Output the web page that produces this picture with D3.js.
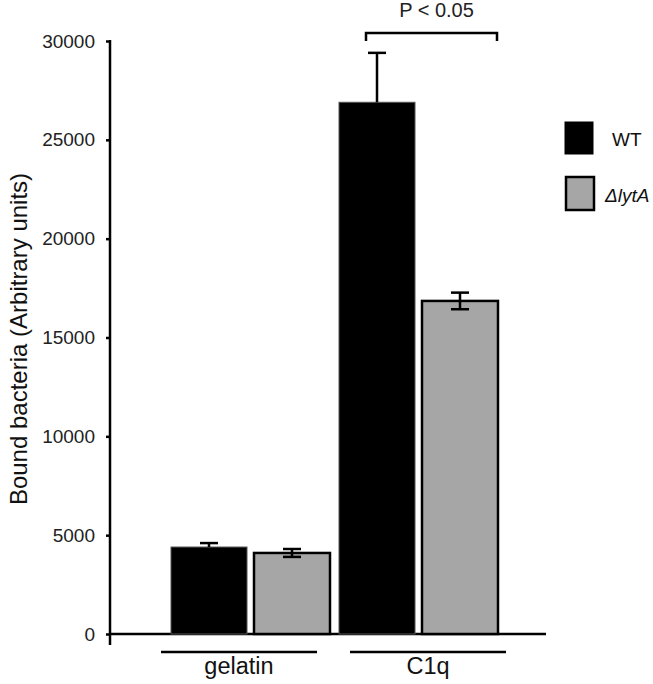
<!DOCTYPE html>
<html>
<head>
<meta charset="utf-8">
<script src="https://cdn.jsdelivr.net/npm/d3@7"></script>
<style>
  body { margin: 0; background: #fff; }
  text { font-family: "Liberation Sans", Arial, sans-serif; }
</style>
</head>
<body>
<svg width="653" height="684"></svg>
<script>
// data
var groups = ["gelatin", "C1q"]
var strains = ["WT", "ΔlytA"]
var wtMeans = [4400, 26900]
var wtErr = [200, 2500]
var lytMeans = [4100, 16850]
var lytErr = [200, 420]
var yTicks = [0, 5000, 10000, 15000, 20000, 25000, 30000]

var svg = d3.select("svg")

var y = d3.scaleLinear()
    .domain([0, 30000])
    .range([634, 41])

// outer band = groups, inner band = strains
var x0 = d3.scaleBand()
    .domain(groups)
    .range([171, 498])
    .paddingInner(0.0536)
    .paddingOuter(0)

var x1 = d3.scaleBand()
    .domain(strains)
    .range([0, x0.bandwidth()])
    .paddingInner(0.0843)
    .paddingOuter(0)

var fill = { "WT": "#000000", "ΔlytA": "#a6a6a6" }

var rows = []
groups.forEach(function(g, i) {
  rows.push({ group: g, strain: "WT", v: wtMeans[i], e: wtErr[i] })
  rows.push({ group: g, strain: "ΔlytA", v: lytMeans[i], e: lytErr[i] })
})

// y axis
var yAxis = svg.append("g")
    .attr("transform", "translate(110,0)")
    .call(d3.axisLeft(y).tickValues(yTicks).tickSize(4).tickPadding(11).tickFormat(d3.format("d")))
yAxis.select(".domain").remove()
yAxis.selectAll("line").attr("stroke", "#000").attr("stroke-width", 2.5)
yAxis.selectAll("text")
    .style("font-size", "19px")
    .attr("fill", "#222")

svg.append("line")
    .attr("x1", 110).attr("x2", 110)
    .attr("y1", y(30000) - 1).attr("y2", 645)
    .attr("stroke", "#000").attr("stroke-width", 2.5)

// x axis line
svg.append("line")
    .attr("x1", 110).attr("x2", 546)
    .attr("y1", y(0)).attr("y2", y(0))
    .attr("stroke", "#000").attr("stroke-width", 2.5)

// bars
svg.append("g")
  .selectAll("rect")
  .data(rows)
  .enter()
  .append("rect")
    .attr("x", function(d){ return x0(d.group) + x1(d.strain) })
    .attr("y", function(d){ return y(d.v) })
    .attr("width", x1.bandwidth())
    .attr("height", function(d){ return y(0) - y(d.v) })
    .attr("fill", function(d){ return fill[d.strain] })
    .attr("stroke", function(d){ return d.strain == "WT" ? "#555" : "#000" })
    .attr("stroke-width", function(d){ return d.strain == "WT" ? 1 : 2.5 })

// error bars
var cx = function(d){ return x0(d.group) + x1(d.strain) + x1.bandwidth() / 2 }
var eb = svg.append("g").selectAll("g").data(rows).enter().append("g")
eb.append("line")
    .attr("x1", cx).attr("x2", cx)
    .attr("y1", function(d){ return y(d.v + d.e) })
    .attr("y2", function(d){ return d.strain == "WT" ? y(d.v) : y(d.v - d.e) })
    .attr("stroke", "#000").attr("stroke-width", 2.5)
eb.append("line")
    .attr("x1", function(d){ return cx(d) - 9 }).attr("x2", function(d){ return cx(d) + 9 })
    .attr("y1", function(d){ return y(d.v + d.e) })
    .attr("y2", function(d){ return y(d.v + d.e) })
    .attr("stroke", "#000").attr("stroke-width", 2.5)
eb.filter(function(d){ return d.strain != "WT" })
  .append("line")
    .attr("x1", function(d){ return cx(d) - 9 }).attr("x2", function(d){ return cx(d) + 9 })
    .attr("y1", function(d){ return y(d.v - d.e) })
    .attr("y2", function(d){ return y(d.v - d.e) })
    .attr("stroke", "#000").attr("stroke-width", 2.5)

// group underlines + labels (slightly shifted off the bar pairs, as in the figure)
var shift = function(d){ return d == "gelatin" ? -11.5 : 9.5 }
var mid = function(d){ return x0(d) + x0.bandwidth() / 2 + shift(d) }
var lab = svg.append("g").selectAll("g").data(groups).enter().append("g")
lab.append("line")
    .attr("x1", function(d){ return mid(d) - 78 })
    .attr("x2", function(d){ return mid(d) + 78 })
    .attr("y1", 652).attr("y2", 652)
    .attr("stroke", "#000").attr("stroke-width", 2.5)
lab.append("text")
    .attr("x", mid)
    .attr("y", 674)
    .attr("text-anchor", "middle")
    .style("font-size", "23.5px")
    .attr("fill", "#111")
    .text(function(d){ return d })

// y title
svg.append("text")
    .attr("transform", "translate(27," + 339 + ") rotate(-90)")
    .attr("text-anchor", "middle")
    .style("font-size", "24px")
    .attr("fill", "#111")
    .text("Bound bacteria (Arbitrary units)")

// significance bracket
var bx1 = x0("C1q") + 27
var bx2 = x0("C1q") + x0.bandwidth() - 1
svg.append("path")
    .attr("d", "M" + bx1 + ",41 V33 H" + bx2 + " V41")
    .attr("fill", "none").attr("stroke", "#000").attr("stroke-width", 2.5)
svg.append("text")
    .attr("x", (bx1 + bx2) / 2 + 5).attr("y", 17)
    .attr("text-anchor", "middle")
    .style("font-size", "20px")
    .attr("fill", "#222")
    .text("P < 0.05")

// legend
var leg = svg.append("g").selectAll("g").data(strains).enter().append("g")
    .attr("transform", function(d, i){ return "translate(565," + (122 + i * 56) + ")" })
leg.append("rect")
    .attr("x", function(d){ return d == "WT" ? 0 : 1 })
    .attr("y", function(d){ return d == "WT" ? 0 : -1 })
    .attr("width", 28).attr("height", function(d){ return d == "WT" ? 32 : 33 })
    .attr("fill", function(d){ return fill[d] })
    .attr("stroke", "#000").attr("stroke-width", function(d){ return d == "WT" ? 1 : 2.5 })
leg.append("text")
    .attr("x", function(d){ return d == "WT" ? 47 : 40 })
    .attr("y", 24)
    .style("font-size", "19px")
    .style("font-style", function(d){ return d == "WT" ? "normal" : "italic" })
    .attr("fill", "#111")
    .text(function(d){ return d })
</script>
</body>
</html>
